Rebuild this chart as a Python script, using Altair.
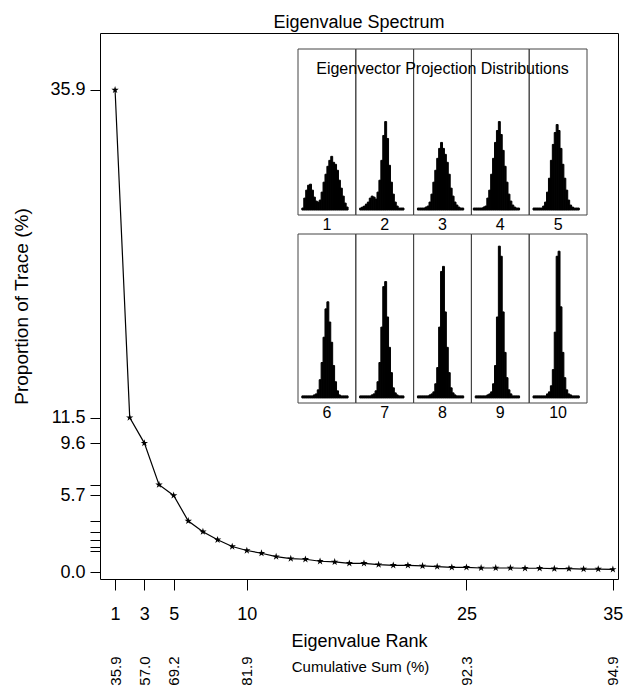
import json
import altair as alt
import pandas as pd

# ---------------- data ----------------
ranks = list(range(1, 36))
eigen_pct = [35.9, 11.5, 9.6, 6.5, 5.7, 3.8, 3.0, 2.4, 1.9, 1.6,
             1.4, 1.15, 1.0, 0.95, 0.8, 0.75, 0.65, 0.65, 0.55, 0.5,
             0.5, 0.45, 0.4, 0.35, 0.35, 0.3, 0.3, 0.3, 0.28, 0.28,
             0.25, 0.25, 0.22, 0.22, 0.2]
x_tick_ranks = [1, 3, 5, 10, 25, 35]
cum_labels = ["35.9", "57.0", "69.2", "81.9", "92.3", "94.9"]
y_ticks = [0.0, 1.6, 1.9, 2.4, 3.0, 3.8, 5.7, 6.5, 9.6, 11.5, 35.9]
y_labeled = [0.0, 5.7, 9.6, 11.5, 35.9]

panel_labels = [str(i) for i in range(1, 11)]
h1 = [0, 0, 2, 12, 20, 25, 26, 20, 13, 9, 8, 10, 18, 28, 36, 44, 50, 54, 48, 46, 40, 30, 22, 14, 7, 3, 0, 0, 0, 0]
h2 = [0, 0, 2, 3, 4, 6, 8, 12, 14, 13, 11, 18, 30, 50, 75, 89, 72, 45, 28, 16, 8, 4, 2, 2, 2, 0, 0, 0, 0, 0]
h3 = [0, 0, 2, 2, 2, 2, 3, 4, 8, 16, 28, 40, 52, 62, 68, 62, 56, 48, 36, 22, 14, 8, 5, 3, 2, 2, 0, 0, 0, 0]
h4 = [0, 2, 2, 2, 2, 2, 3, 4, 12, 20, 36, 52, 68, 80, 89, 76, 60, 44, 28, 16, 9, 5, 3, 2, 2, 0, 0, 0, 0, 0]
h5 = [0, 0, 2, 2, 2, 2, 2, 4, 8, 18, 32, 50, 66, 78, 86, 80, 62, 46, 32, 20, 10, 5, 3, 2, 2, 2, 0, 0, 0, 0]
h6 = [0, 0, 2, 2, 2, 2, 2, 2, 3, 4, 8, 18, 35, 60, 88, 95, 75, 55, 32, 16, 7, 3, 2, 2, 2, 2, 0, 0, 0, 0]
h7 = [0, 0, 2, 2, 2, 2, 2, 2, 3, 4, 7, 16, 35, 70, 110, 115, 80, 50, 25, 10, 5, 3, 2, 2, 2, 0, 0, 0, 0, 0]
h8 = [0, 0, 2, 2, 2, 2, 2, 2, 3, 4, 6, 14, 30, 70, 125, 130, 85, 50, 25, 10, 5, 3, 2, 2, 2, 2, 0, 0, 0, 0]
h9 = [0, 0, 2, 2, 2, 2, 2, 2, 3, 4, 6, 14, 32, 80, 150, 140, 85, 45, 20, 8, 4, 2, 2, 2, 2, 0, 0, 0, 0, 0]
h10 = [0, 0, 2, 2, 2, 2, 2, 2, 2, 4, 6, 12, 28, 65, 140, 145, 90, 45, 20, 8, 4, 3, 2, 2, 2, 2, 0, 0, 0, 0]
hists = [h1, h2, h3, h4, h5, h6, h7, h8, h9, h10]

FONT = "Liberation Sans"
NCOL = 5
NB = len(h1)

# ---------------- main spectrum ----------------
main_df = pd.DataFrame({"rank": ranks, "pct": eigen_pct})
cum_df = pd.DataFrame({"rank": x_tick_ranks, "cum": cum_labels})

x_scale = alt.Scale(domain=[-0.03, 35.35], nice=False, zero=False)
y_scale = alt.Scale(domain=[-0.52, 40.14], nice=False, zero=False)

y_label_expr = f"indexof({json.dumps(y_labeled)}, datum.value) >= 0 ? format(datum.value, '.1f') : ''"
y_enc = alt.Y("pct:Q", scale=y_scale,
              axis=alt.Axis(values=y_ticks, labelExpr=y_label_expr, tickSize=10,
                            labelPadding=5, domain=False, grid=False, labelOverlap=False,
                            labelFontSize=18, labelColor="black", tickColor="black",
                            title="Proportion of Trace (%)", titleFontSize=19,
                            titleFontWeight="normal", titleColor="black", titlePadding=18))

line = alt.Chart(main_df).mark_line(color="black", strokeWidth=1.2).encode(
    x=alt.X("rank:Q", scale=x_scale,
            axis=alt.Axis(orient="bottom", values=x_tick_ranks, format="d", tickSize=11,
                          labelPadding=15, domain=False, grid=False, labelOverlap=False,
                          labelFontSize=18, labelColor="black", tickColor="black",
                          title="Eigenvalue Rank", titleFontSize=18, titleFontWeight="normal",
                          titleColor="black", titlePadding=9)),
    y=y_enc,
)

star = ("M0,-1L0.2245,-0.309L0.951,-0.309L0.363,0.118L0.588,0.809L0,0.382"
        "L-0.588,0.809L-0.363,0.118L-0.951,-0.309L-0.2245,-0.309Z")
points = alt.Chart(main_df).mark_point(shape=star, filled=True, color="black",
                                       size=60, opacity=1).encode(
    x=alt.X("rank:Q", axis=None),
    y=y_enc,
)

cum_expr = f"{json.dumps(cum_labels)}[indexof({json.dumps(x_tick_ranks)}, datum.value)]"
cum_axis = alt.Chart(cum_df).mark_point(opacity=0).encode(
    x=alt.X("rank:Q",
            axis=alt.Axis(orient="bottom", values=x_tick_ranks, labelExpr=cum_expr,
                          ticks=False, tickSize=0, domain=False, grid=False,
                          labelAngle=270, labelPadding=77, labelFontSize=15,
                          labelColor="black", labelOverlap=False,
                          title="Cumulative Sum (%)", titleFontSize=15,
                          titleFontWeight="normal", titleColor="black",
                          titleX=260, titleY=87, titleBaseline="middle", titleAlign="center")),
)

main = alt.layer(line, points, cum_axis).resolve_axis(x="independent")

# ---------------- inset histograms ----------------
rows = []
for p, h in enumerate(hists):
    col = p % NCOL
    row = p // NCOL
    for b, c in enumerate(h):
        if c > 0:
            rows.append({"panel": p + 1, "row": row, "x0": col + b / NB,
                         "x1": col + (b + 1) / NB, "count": c})
hist_df = pd.DataFrame(rows)

panel_df = pd.DataFrame({
    "label": panel_labels,
    "row": [i // NCOL for i in range(10)],
    "c0": [i % NCOL for i in range(10)],
})
panel_df["c1"] = panel_df["c0"] + 1
panel_df["cm"] = panel_df["c0"] + 0.5

FR_LO, FR_HI = -5, 162
hx_scale = alt.Scale(domain=[0, NCOL], range=[198, 487], nice=False, zero=False)
row_ranges = [[182, 16], [370, 201]]


def hist_row(r, with_title):
    ys = alt.Scale(domain=[FR_LO, FR_HI], range=row_ranges[r], nice=False, zero=False)
    bars = alt.Chart(hist_df).transform_filter(alt.datum.row == r).mark_rect(
        color="black", stroke="black", strokeWidth=1).encode(
        x=alt.X("x0:Q", scale=hx_scale, axis=None),
        x2="x1:Q",
        y=alt.Y("count:Q", scale=ys, axis=None),
        y2=alt.datum(0),
    )
    frames = alt.Chart(panel_df).transform_filter(alt.datum.row == r).mark_rect(
        fillOpacity=0, stroke="#444444", strokeWidth=1).encode(
        x=alt.X("c0:Q", scale=hx_scale, axis=None),
        x2="c1:Q",
        y=alt.Y(datum=FR_LO, scale=ys, axis=None),
        y2=alt.datum(FR_HI),
    )
    labels = alt.Chart(panel_df).transform_filter(alt.datum.row == r).mark_text(
        baseline="top", dy=2, fontSize=16, color="black").encode(
        x=alt.X("cm:Q", scale=hx_scale, axis=None),
        y=alt.Y(datum=FR_LO, scale=ys, axis=None),
        text="label:N",
    )
    layers = [bars, frames, labels]
    if with_title:
        title = alt.Chart(pd.DataFrame({"t": ["Eigenvector Projection Distributions"]})).mark_text(
            baseline="middle", dy=20, fontSize=16, color="black").encode(
            x=alt.X(datum=NCOL / 2, scale=hx_scale, axis=None),
            y=alt.Y(datum=FR_HI, scale=ys, axis=None),
            text="t:N",
        )
        layers.append(title)
    return alt.layer(*layers)


chart = alt.layer(main, hist_row(0, True), hist_row(1, False)).resolve_scale(
    x="independent", y="independent"
).properties(
    width=518, height=546,
    autosize=alt.AutoSizeParams(type="none"),
    padding={"left": 100, "top": 33, "right": 7, "bottom": 108},
    title=alt.TitleParams("Eigenvalue Spectrum", fontSize=18, fontWeight="normal",
                          anchor="middle", offset=1, color="black"),
).configure(font=FONT).configure_view(stroke="black", strokeWidth=1)

chart.save("out.html", embed_options={"renderer": "svg", "actions": False})
